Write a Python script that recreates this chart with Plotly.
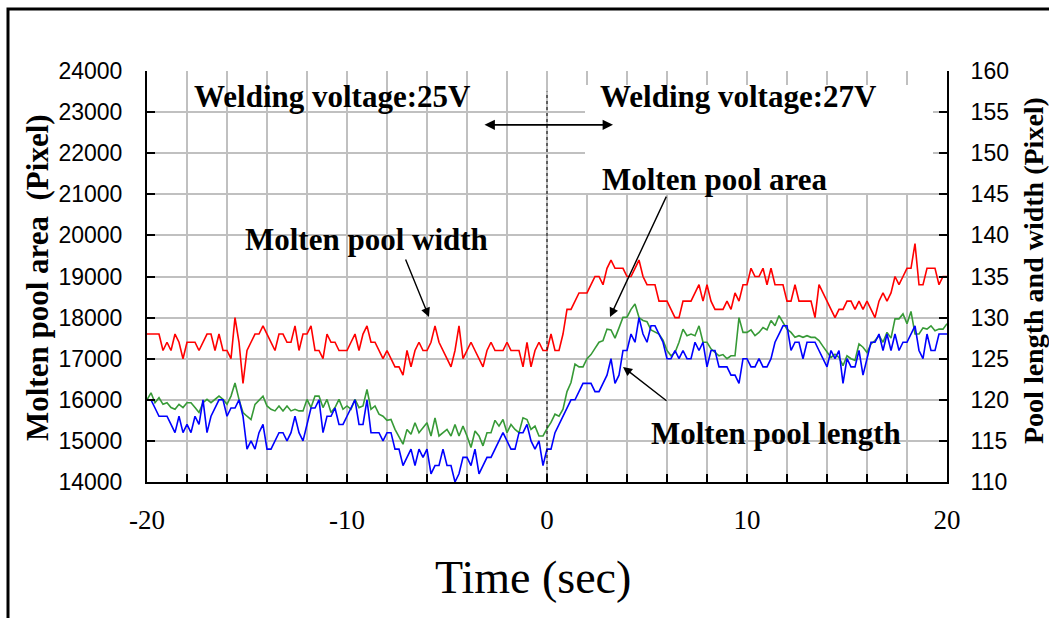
import plotly.graph_objects as go

# sampling grid (s), 0.2 s step
time_s = [round(-20 + 0.2 * i, 1) for i in range(201)]

# Molten pool area (left axis, pixel)
pool_area = [
    16000, 16170, 15930, 16050, 15890, 15930, 15810, 15770, 15890, 15810,
    15930, 15930, 15810, 15690, 15930, 16010, 15930, 16010, 16090, 16010,
    15890, 16090, 16410, 16010, 15690, 15600, 15520, 15890, 15990, 16090,
    15850, 15770, 15730, 15850, 15730, 15850, 15730, 15770, 15730, 15730,
    16010, 15810, 16090, 16090, 15810, 16010, 15690, 15810, 16010, 15770,
    15850, 15770, 16010, 15810, 15850, 16250, 15770, 15850, 15650, 15600,
    15500, 15520, 15280, 15100, 14920, 15280, 15160, 15440, 15200, 15320,
    15440, 15120, 15560, 15120, 15200, 15280, 15120, 15400, 15120, 15360,
    15120, 14840, 15240, 15120, 14880, 15200, 15200, 15500, 15360, 15520,
    15200, 15400, 15280, 15200, 15560, 15520, 15280, 15360, 15120, 15120,
    15300, 15450, 15650, 15600, 15770, 16200, 16420, 16870, 16800, 16800,
    17000, 17100, 17250, 17400, 17440, 17720, 17700, 17500, 17750, 18010,
    18010, 18200, 18330, 18000, 17930, 17900, 17700, 17640, 17600, 17450,
    17200, 17070, 17150, 17400, 17720, 17560, 17600, 17560, 17800, 17400,
    17400, 17240, 17150, 17070, 17100, 17000, 17070, 17070, 18000, 17640,
    17640, 17700, 17560, 17640, 17760, 17700, 17930, 17800, 18050, 17890,
    17720, 17640, 17520, 17560, 17520, 17560, 17520, 17520, 17440, 17300,
    17150, 17030, 17110, 17030, 16830, 17070, 17000, 16960, 17360, 17280,
    17150, 17360, 17440, 17560, 17400, 17640, 17500, 17970, 17970, 18090,
    17850, 18150, 17600, 17600, 17750, 17720, 17800, 17680, 17720, 17720,
    17850,
]

# Molten pool width (right axis, pixel)
pool_width = [
    128, 128, 128, 128, 126, 127, 126, 128, 127, 125,
    127, 127, 127, 126, 127, 128, 128, 126, 128, 126,
    126, 125, 130, 127, 122, 126, 127, 128, 128, 129,
    128, 127, 126, 128, 128, 127, 127, 129, 126, 128,
    128, 129, 126, 126, 125, 128, 127, 127, 126, 126,
    126, 127, 128, 126, 128, 129, 127, 127, 126, 125,
    126, 125, 124, 124, 123, 126, 124, 126, 127, 126,
    126, 127, 129, 127, 126, 125, 124, 126, 129, 125,
    126, 127, 126, 125, 124, 126, 127, 126, 126, 126,
    127, 126, 126, 126, 124, 127, 124, 126, 127, 126,
    126, 128, 126, 126, 128, 131, 131, 132, 133, 133,
    133, 134, 135, 135, 134, 136, 137, 136, 136, 136,
    135, 135, 136, 137, 135, 134, 134, 134, 132, 132,
    132, 131, 130, 130, 132, 132, 132, 133, 134, 132,
    134, 132, 131, 131, 131, 132, 131, 133, 132, 134,
    134, 136, 135, 135, 136, 134, 136, 134, 134, 134,
    132, 132, 134, 132, 132, 132, 132, 130, 134, 133,
    132, 131, 130, 131, 131, 132, 132, 131, 132, 131,
    132, 131, 130, 132, 133, 132, 133, 135, 134, 135,
    136, 136, 139, 134, 134, 136, 136, 136, 134, 135,
    135,
]

# Molten pool length (right axis, pixel)
pool_length = [
    120, 120, 119, 118, 118, 118, 117, 116, 118, 116,
    117, 116, 118, 117, 120, 116, 118, 119, 120, 120,
    118, 119, 119, 120, 118, 114, 115, 114, 116, 117,
    114, 114, 115, 116, 116, 115, 116, 118, 116, 115,
    117, 119, 119, 120, 116, 118, 118, 119, 117, 117,
    118, 119, 120, 117, 117, 120, 116, 116, 116, 115,
    116, 116, 114, 114, 112, 113, 114, 112, 114, 113,
    114, 111, 112, 112, 114, 112, 112, 110, 111, 113,
    113, 112, 114, 111, 112, 113, 113, 114, 115, 116,
    115, 114, 114, 116, 116, 117, 115, 114, 115, 112,
    114, 114, 116, 117, 118, 119, 120, 120, 121, 122,
    122, 122, 121, 121, 122, 123, 125, 122, 123, 126,
    126, 128, 127, 130, 128, 127, 129, 129, 128, 127,
    125, 125, 126, 125, 126, 125, 125, 127, 126, 127,
    124, 126, 126, 124, 124, 124, 123, 123, 122, 125,
    125, 124, 124, 125, 124, 124, 125, 127, 128, 129,
    129, 126, 127, 127, 125, 127, 127, 127, 126, 125,
    124, 126, 125, 126, 122, 125, 124, 124, 126, 123,
    125, 127, 127, 128, 126, 128, 126, 128, 126, 127,
    127, 128, 129, 126, 125, 128, 126, 126, 128, 128,
    128,
]

x_tick_vals = [-20, -10, 0, 10, 20]
x_tick_text = ["-20", "-10", "0", "10", "20"]

GRID = "#c0c0c0"
SERIF = "Liberation Serif, Times New Roman, serif"
SANS = "Liberation Sans, Arial, sans-serif"

fig = go.Figure()
fig.add_trace(go.Scatter(x=time_s, y=pool_area, mode="lines", name="Molten pool area",
                         line=dict(color="#379a37", width=1.6), yaxis="y"))
fig.add_trace(go.Scatter(x=time_s, y=pool_width, mode="lines", name="Molten pool width",
                         line=dict(color="#ff0000", width=1.6), yaxis="y2"))
fig.add_trace(go.Scatter(x=time_s, y=pool_length, mode="lines", name="Molten pool length",
                         line=dict(color="#0000ff", width=1.6), yaxis="y2"))

W, H = 1049, 618
L, R, T, B = 147, 102, 71, 136
pw, ph = W - L - R, H - T - B


def px_to_paper_x(p):
    return (p - L) / pw


def px_to_paper_y(p):
    return (H - B - p) / ph


fig.update_layout(
    width=W, height=H,
    margin=dict(l=L, r=R, t=T, b=B, pad=0),
    paper_bgcolor="white", plot_bgcolor="white",
    showlegend=False,
    xaxis=dict(
        range=[-20, 20], tickmode="array", tickvals=x_tick_vals, ticktext=x_tick_text,
        ticks="inside", ticklen=8, tickwidth=1.5, tickcolor="black",
        showline=True, linecolor="black", linewidth=2,
        showgrid=True, gridcolor=GRID, gridwidth=1.5, zeroline=False,
        tickfont=dict(family=SERIF, size=27, color="black"),
        ticklabelstandoff=13,
        minor=dict(dtick=2, tick0=0, showgrid=True, gridcolor=GRID, gridwidth=1.5,
                   ticks="inside", ticklen=8, tickwidth=1.5, tickcolor="black"),
    ),
    yaxis=dict(
        range=[14000, 24000], dtick=1000, tick0=14000, tickformat="d",
        ticks="inside", ticklen=8, tickwidth=1.5, tickcolor="black",
        showline=True, linecolor="black", linewidth=2,
        showgrid=True, gridcolor=GRID, gridwidth=1.5, zeroline=False,
        tickfont=dict(family=SANS, size=23, color="black"),
        ticklabelstandoff=18,
    ),
    yaxis2=dict(
        range=[110, 160], dtick=5, tick0=110, tickformat="d", overlaying="y", side="right",
        ticks="inside", ticklen=8, tickwidth=1.5, tickcolor="black",
        showline=True, linecolor="black", linewidth=2,
        showgrid=False, zeroline=False,
        tickfont=dict(family=SANS, size=23, color="black"),
        ticklabelstandoff=17,
    ),
)

shapes = [
    # outer frame
    dict(type="rect", xref="paper", yref="paper",
         x0=px_to_paper_x(8), x1=px_to_paper_x(1070),
         y0=px_to_paper_y(650), y1=px_to_paper_y(9),
         line=dict(color="black", width=3), fillcolor="rgba(0,0,0,0)", layer="above"),
    # white label box in upper right
    dict(type="rect", xref="x", yref="y", x0=1.9, x1=19.3, y0=21030, y1=23660,
         line=dict(width=0), fillcolor="white", layer="between"),
    # dotted divider at t = 0
    dict(type="line", xref="x", yref="y", x0=0, x1=0, y0=14000, y1=23500,
         line=dict(color="black", width=1, dash="dot"), layer="above"),
]
fig.update_layout(shapes=shapes)

BOLD = dict(family=SERIF, size=31, color="black", weight="bold")
ann = [
    dict(text="Welding voltage:25V", x=-10.75, y=23370, xref="x", yref="y",
         showarrow=False, font=BOLD, xanchor="center", yanchor="middle"),
    dict(text="Welding voltage:27V", x=9.55, y=23370, xref="x", yref="y",
         showarrow=False, font=BOLD, xanchor="center", yanchor="middle"),
    dict(text="Molten pool area", x=8.4, y=21370, xref="x", yref="y",
         showarrow=False, font=BOLD, xanchor="center", yanchor="middle"),
    dict(text="Molten pool width", x=-9.05, y=19890, xref="x", yref="y",
         showarrow=False, font=BOLD, xanchor="center", yanchor="middle"),
    dict(text="Molten pool length", x=11.45, y=15170, xref="x", yref="y",
         showarrow=False, font=BOLD, xanchor="center", yanchor="middle"),
    # arrows
    dict(text="", x=3.3, y=22690, ax=-3.2, ay=22690, xref="x", yref="y", axref="x", ayref="y",
         showarrow=True, arrowhead=2, arrowside="end+start", arrowsize=1.3, arrowwidth=1.6,
         arrowcolor="black"),
    dict(text="", x=3.15, y=18015, ax=6.0, ay=20980, xref="x", yref="y", axref="x", ayref="y",
         showarrow=True, arrowhead=2, arrowsize=1.3, arrowwidth=1.4, arrowcolor="black"),
    dict(text="", x=-5.9, y=18015, ax=-7.1, ay=19450, xref="x", yref="y", axref="x", ayref="y",
         showarrow=True, arrowhead=2, arrowsize=1.3, arrowwidth=1.4, arrowcolor="black"),
    dict(text="", x=3.8, y=16800, ax=6.05, ay=15950, xref="x", yref="y", axref="x", ayref="y",
         showarrow=True, arrowhead=2, arrowsize=1.3, arrowwidth=1.4, arrowcolor="black"),
    # axis titles
    dict(text="Molten pool area  (Pixel)", xref="paper", yref="paper",
         x=px_to_paper_x(37), y=px_to_paper_y(278), textangle=-90, showarrow=False,
         font=dict(family=SERIF, size=31, color="black", weight="bold"),
         xanchor="center", yanchor="middle"),
    dict(text="Pool length and width (Pixel)", xref="paper", yref="paper",
         x=px_to_paper_x(1033), y=px_to_paper_y(271), textangle=-90, showarrow=False,
         font=dict(family=SERIF, size=28, color="black", weight="bold"),
         xanchor="center", yanchor="middle"),
    dict(text="Time (sec)", xref="paper", yref="paper",
         x=px_to_paper_x(533), y=px_to_paper_y(577), showarrow=False,
         font=dict(family=SERIF, size=46, color="black"),
         xanchor="center", yanchor="middle"),
]
fig.update_layout(annotations=ann)

fig.write_html("out.html")
